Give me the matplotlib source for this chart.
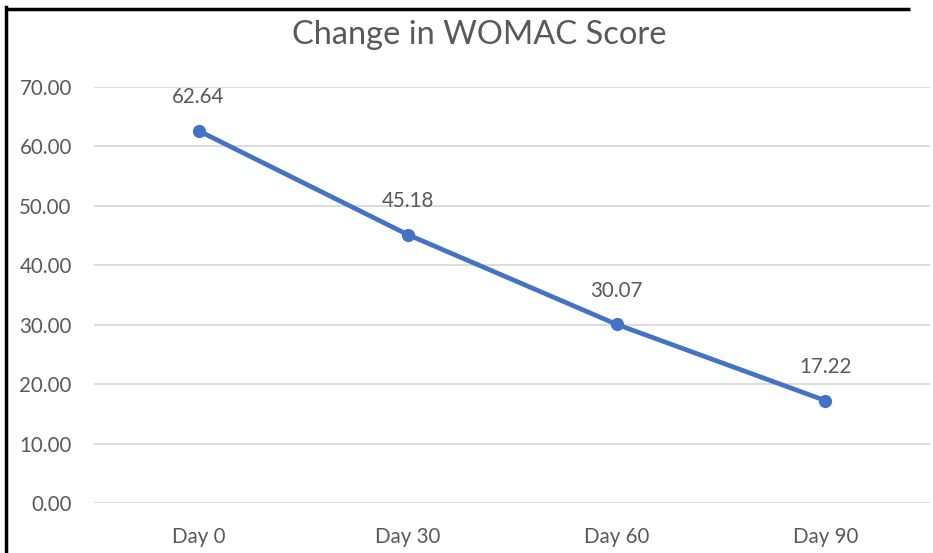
import matplotlib
matplotlib.use("Agg")
import matplotlib.pyplot as plt
from matplotlib.lines import Line2D

categories = ["Day 0", "Day 30", "Day 60", "Day 90"]
values = [62.64, 45.18, 30.07, 17.22]
yticks = [0, 10, 20, 30, 40, 50, 60, 70]
title = "Change in WOMAC Score"

plt.rcParams['font.family'] = ['Lato', 'DejaVu Sans']
gray = "#595959"
blue = "#4472C4"

fig = plt.figure(figsize=(9.33, 5.53), dpi=100)
ax = fig.add_axes([94/933, 1-503/553, (930-94)/933, (503-87)/553])

x = list(range(len(categories)))
ax.plot(x, values, color=blue, linewidth=3.4, marker='o', markersize=8.5,
        solid_capstyle='round', zorder=3, clip_on=False)
for xi, v in zip(x, values):
    ax.annotate(f"{v:.2f}", (xi, v), xytext=(0, 17), textcoords='offset points',
                ha='center', va='bottom', fontsize=14.8, color=gray)

ax.set_xlim(-0.5, len(categories) - 0.5)
ax.set_ylim(0, 70)
ax.set_yticks(yticks)
ax.set_yticklabels([f"{t:.2f}" for t in yticks])
ax.set_xticks(x)
ax.set_xticklabels(categories)
ax.tick_params(axis='both', length=0, labelsize=14.8, colors=gray)
ax.tick_params(axis='y', pad=16)
ax.tick_params(axis='x', pad=17)
ax.grid(axis='y', color="#D9D9D9", linewidth=1.3)
ax.set_axisbelow(True)
for s in ax.spines.values():
    s.set_visible(False)

fig.text(479/933, 1-35/553, title, ha='center', va='center', fontsize=23.5, color=gray)

# screenshot border (top and left)
fig.add_artist(Line2D([5.5/933, 5.5/933], [0, 1-7/553], transform=fig.transFigure, color='black', linewidth=2.5))
fig.add_artist(Line2D([5/933, 0.975], [1-8.5/553, 1-8.5/553], transform=fig.transFigure, color='black', linewidth=2.5, solid_capstyle='butt'))

fig.savefig("out.png", dpi=100)
